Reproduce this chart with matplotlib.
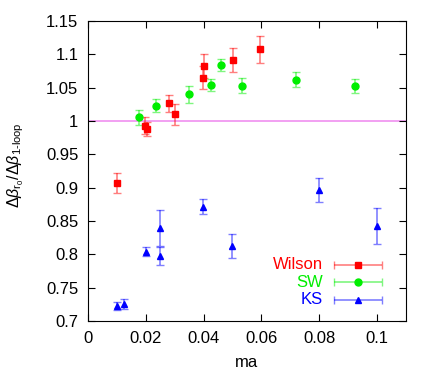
import numpy as np
import matplotlib
matplotlib.use("Agg")
import matplotlib.pyplot as plt

plt.rcParams['font.family'] = ['Liberation Sans', 'DejaVu Sans']
plt.rcParams['mathtext.fontset'] = 'custom'
plt.rcParams['mathtext.rm'] = 'Liberation Sans'
plt.rcParams['mathtext.it'] = 'Liberation Sans:italic'
plt.rcParams['mathtext.sf'] = 'Liberation Sans'

# Wilson
wil_x = [0.010, 0.0198, 0.0203, 0.028, 0.030, 0.0398, 0.0401, 0.050, 0.0595]
wil_y = [0.907, 0.993, 0.988, 1.0265, 1.010, 1.065, 1.082, 1.091, 1.1075]
wil_e = [0.015, 0.013, 0.010, 0.013, 0.016, 0.017, 0.018, 0.018, 0.020]

# SW
sw_x = [0.0178, 0.0236, 0.0349, 0.0427, 0.0459, 0.0533, 0.0718, 0.0924]
sw_y = [1.0055, 1.023, 1.040, 1.0545, 1.0845, 1.053, 1.062, 1.0525]
sw_e = [0.011, 0.0095, 0.013, 0.009, 0.009, 0.011, 0.011, 0.010]

# KS
ks_x = [0.0101, 0.0125, 0.020, 0.025, 0.0249, 0.0399, 0.0499, 0.0798, 0.0998]
ks_y = [0.723, 0.7255, 0.804, 0.7975, 0.840, 0.8715, 0.8125, 0.896, 0.8425]
ks_e = [0.006, 0.008, 0.007, 0.013, 0.027, 0.011, 0.018, 0.018, 0.027]

series = [
    ("Wilson", wil_x, wil_y, wil_e, "#ff0000", "s", 5),
    ("SW", sw_x, sw_y, sw_e, "#00ee00", "o", 5),
    ("KS", ks_x, ks_y, ks_e, "#0000ff", "^", 4.5),
]
legend_rows = [0.187, 0.129, 0.070]

fig = plt.figure(figsize=(4.36, 3.74), dpi=100)
ax = fig.add_axes([88 / 436, 1 - 321 / 374, 318 / 436, 300 / 374])

ax.axhline(1.0, color="#f090f0", lw=1.2, zorder=1)

for (name, x, y, e, c, m, ms), ly in zip(series, legend_rows):
    ax.errorbar(x, y, yerr=e, fmt="none", ecolor=c, alpha=0.5,
                elinewidth=1.2, capsize=3, capthick=1.0, zorder=2)
    ax.plot(x, y, ls="none", marker=m, color=c, ms=ms, zorder=3)
    # legend entry drawn by hand (gnuplot style)
    ax.text(0.738, ly, name, color=c, fontsize=12, ha="right", va="center",
            transform=ax.transAxes)
    ax.errorbar([0.848], [ly], xerr=[0.075], fmt="none", ecolor=c, alpha=0.5,
                elinewidth=1.2, capsize=3, capthick=1.0, transform=ax.transAxes)
    ax.plot([0.848], [ly], marker=m, color=c, ms=ms, transform=ax.transAxes)

ax.set_xlim(0, 0.11)
ax.set_ylim(0.7, 1.15)
ax.set_xticks([0, 0.02, 0.04, 0.06, 0.08, 0.1])
ax.set_xticklabels(["0", "0.02", "0.04", "0.06", "0.08", "0.1"])
ax.set_yticks([0.7, 0.75, 0.8, 0.85, 0.9, 0.95, 1.0, 1.05, 1.1, 1.15])
ax.set_yticklabels(["0.7", "0.75", "0.8", "0.85", "0.9", "0.95", "1", "1.05", "1.1", "1.15"])
ax.tick_params(direction="in", top=True, right=True, labelsize=12, length=5, pad=7)
ax.set_xlabel("ma", fontsize=12, labelpad=7)
ax.set_ylabel(r"$\Delta\beta_{\mathrm{r}_0}/\Delta\beta_{\mathrm{1\text{-}loop}}$", fontsize=11.5)
ax.yaxis.set_label_coords(-0.195, 0.52)

fig.savefig("out.png", dpi=100)
